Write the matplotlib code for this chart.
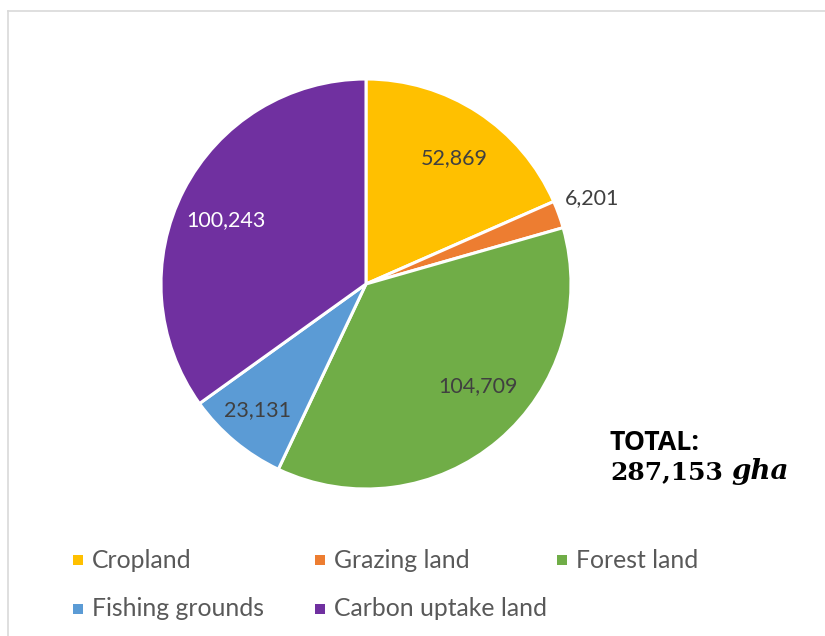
import numpy as np
import matplotlib
matplotlib.use("Agg")
import matplotlib.pyplot as plt
from matplotlib.patches import Rectangle
from matplotlib.lines import Line2D

plt.rcParams["font.family"] = ["Lato", "DejaVu Sans"]

# Ecological footprint by land type (global hectares)
categories = ["Cropland", "Grazing land", "Forest land", "Fishing grounds", "Carbon uptake land"]
values = [52869, 6201, 104709, 23131, 100243]
colors = ["#FFC000", "#ED7D31", "#70AD47", "#5B9BD5", "#7030A0"]
label_colors = ["#404040", "#404040", "#404040", "#404040", "#FFFFFF"]
unit = "gha"

# label placement per slice: radius (fraction of R) and angular nudge (deg)
label_r = [0.75, 1.18, 0.74, 0.81, 0.75]
label_dang = [-2, 1, 7.5, -1, 2.5]

W, H = 825, 636
fig = plt.figure(figsize=(W / 100, H / 100), dpi=100)

# chart-area frame (only top and left edges visible)
fig.add_artist(Line2D([7.5 / W, 7.5 / W], [0, 1 - 10.5 / H], color="#D9D9D9", lw=1.2,
                      transform=fig.transFigure))
fig.add_artist(Line2D([7.5 / W, 1], [1 - 10.5 / H, 1 - 10.5 / H], color="#D9D9D9", lw=1.2,
                      transform=fig.transFigure))

cx, cy, R = 366, 284, 205
ax = fig.add_axes([(cx - R) / W, 1 - (cy + R) / H, 2 * R / W, 2 * R / H])
wedges, _ = ax.pie(values, colors=colors, startangle=90, counterclock=False,
                   radius=1.0, wedgeprops=dict(edgecolor="white", linewidth=2.2))
ax.set_xlim(-1, 1)
ax.set_ylim(-1, 1)
ax.set_aspect("equal")
ax.axis("off")

for i, w in enumerate(wedges):
    ang = np.deg2rad((w.theta1 + w.theta2) / 2 + label_dang[i])
    r = label_r[i]
    ax.text(r * np.cos(ang), r * np.sin(ang), f"{values[i]:,}",
            ha="center", va="center", fontsize=15.5, color=label_colors[i])

# total annotation
total = sum(values)
fig.text(610 / W, 1 - 443 / H, "TOTAL:", fontsize=19.3, fontweight="bold",
         family=["Open Sans", "DejaVu Sans"], color="black", ha="left", va="center")
fig.text(610 / W, 1 - 479 / H, f"{total:,}", fontsize=18, fontweight="bold",
         family=["DejaVu Serif"], color="black", ha="left", va="baseline")
fig.text(731 / W, 1 - 479 / H, unit, fontsize=20, fontweight="bold", style="italic",
         family=["DejaVu Serif"], color="black", ha="left", va="baseline")

# legend, row-major like the source chart
leg_x = [78, 320, 562]
leg_y = [560, 609]
for i, (name, col) in enumerate(zip(categories, colors)):
    x = leg_x[i % 3]
    y = leg_y[i // 3]
    fig.add_artist(Rectangle(((x - 5) / W, 1 - (y + 5) / H), 10 / W, 10 / H,
                             facecolor=col, edgecolor="none", transform=fig.transFigure))
    fig.text((x + 14) / W, 1 - y / H, name, fontsize=17.8, color="#595959",
             ha="left", va="center")

fig.savefig("out.png", dpi=100, facecolor="white")
